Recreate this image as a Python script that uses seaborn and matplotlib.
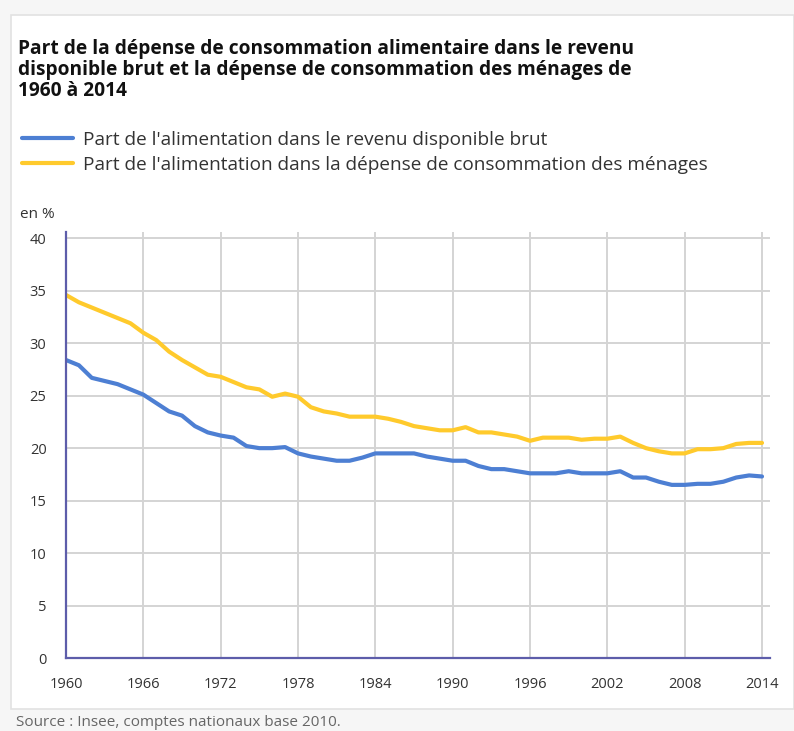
import numpy as np
import pandas as pd
import matplotlib.pyplot as plt
import seaborn as sns
from matplotlib.patches import Rectangle

# data (in %)
years = list(range(1960, 2015))
revenu = [28.4, 27.9, 26.7, 26.4, 26.1, 25.6, 25.1, 24.3, 23.5, 23.1,
          22.1, 21.5, 21.2, 21.0, 20.2, 20.0, 20.0, 20.1, 19.5, 19.2,
          19.0, 18.8, 18.8, 19.1, 19.5, 19.5, 19.5, 19.5, 19.2, 19.0,
          18.8, 18.8, 18.3, 18.0, 18.0, 17.8, 17.6, 17.6, 17.6, 17.8,
          17.6, 17.6, 17.6, 17.8, 17.2, 17.2, 16.8, 16.5, 16.5, 16.6,
          16.6, 16.8, 17.2, 17.4, 17.3]
depense = [34.6, 33.9, 33.4, 32.9, 32.4, 31.9, 31.0, 30.3, 29.2, 28.4,
           27.7, 27.0, 26.8, 26.3, 25.8, 25.6, 24.9, 25.2, 24.9, 23.9,
           23.5, 23.3, 23.0, 23.0, 23.0, 22.8, 22.5, 22.1, 21.9, 21.7,
           21.7, 22.0, 21.5, 21.5, 21.3, 21.1, 20.7, 21.0, 21.0, 21.0,
           20.8, 20.9, 20.9, 21.1, 20.5, 20.0, 19.7, 19.5, 19.5, 19.9,
           19.9, 20.0, 20.4, 20.5, 20.5]
series_labels = ["Part de l'alimentation dans le revenu disponible brut",
                 "Part de l'alimentation dans la dépense de consommation des ménages"]
x_ticks = list(range(1960, 2015, 6))
y_ticks = list(range(0, 41, 5))

df = pd.DataFrame({
    'annee': years * 2,
    'valeur': revenu + depense,
    'serie': [series_labels[0]] * len(years) + [series_labels[1]] * len(years),
})

sns.set_style("white")
plt.rcParams['font.family'] = ['Open Sans', 'DejaVu Sans']

BLUE = '#4d7fd3'
YELLOW = '#ffca2c'
NAVY = '#5d5daa'
GRID = '#d4d4d4'
TXT = '#333333'

fig = plt.figure(figsize=(7.94, 7.31), dpi=100)
fig.patch.set_facecolor('#f6f6f6')
# white card behind the chart
fig.patches.append(Rectangle((11 / 794, 1 - 709 / 731), 783 / 794, 694 / 731,
                             transform=fig.transFigure, facecolor='white',
                             edgecolor='#e2e2e2', linewidth=1.2, zorder=-1))

ax = fig.add_axes([66 / 794, 1 - 658 / 731, 704 / 794, 426 / 731])
sns.lineplot(data=df, x='annee', y='valeur', hue='serie',
             palette=[BLUE, YELLOW], linewidth=3.0, ax=ax, legend=False)

ax.set_xlim(1960, 2014.62)
ax.set_ylim(0, 40.6)
ax.set_xticks(x_ticks)
ax.set_yticks(y_ticks)
ax.set_xlabel('')
ax.set_ylabel('')
ax.grid(True, color=GRID, linewidth=1.4)
ax.set_axisbelow(True)
ax.tick_params(axis='both', length=8, width=1.4, color=GRID, labelsize=10.5,
               labelcolor=TXT, pad=6)
for side in ['top', 'right']:
    ax.spines[side].set_visible(False)
for side in ['left', 'bottom']:
    ax.spines[side].set_color(NAVY)
    ax.spines[side].set_linewidth(1.6)
ax.patch.set_alpha(0)

fig.text(18 / 794, 1 - 39 / 731,
         "Part de la dépense de consommation alimentaire dans le revenu\n"
         "disponible brut et la dépense de consommation des ménages de\n"
         "1960 à 2014",
         fontsize=13.8, fontweight='bold', color='#111111', va='top',
         linespacing=1.08)

handles = [plt.Line2D([], [], color=c, linewidth=3.0) for c in [BLUE, YELLOW]]
fig.legend(handles, series_labels, loc='upper left',
           bbox_to_anchor=(12 / 794, 1 - 121 / 731), frameon=False,
           fontsize=13.7, labelcolor=TXT, handlelength=2.7,
           handletextpad=0.55, labelspacing=0.38, borderpad=0)

fig.text(20 / 794, 1 - 215 / 731, "en %", fontsize=11, color=TXT, va='center')
fig.text(16 / 794, 1 - 722 / 731, "Source : Insee, comptes nationaux base 2010.",
         fontsize=11, color='#666666', va='center')

fig.savefig('out.png', dpi=100, facecolor=fig.get_facecolor())
